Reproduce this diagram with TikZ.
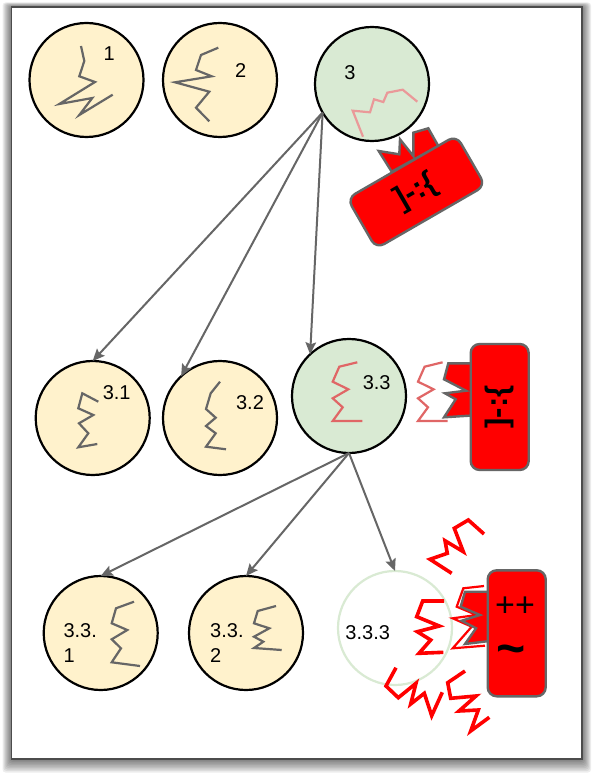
\documentclass[tikz,border=0pt]{standalone}
\usepackage{fontspec}
\setmainfont{Liberation Sans}
\usetikzlibrary{arrows.meta}
\definecolor{cream}{HTML}{FFF2CC}
\definecolor{palegreen}{HTML}{D9EAD3}
\definecolor{linegray}{HTML}{666666}
\definecolor{palepink}{HTML}{EA9999}
\definecolor{rosered}{HTML}{E06666}
\tikzset{
	>={Stealth[length=12pt,width=10.5pt,inset=2pt]},
	ball/.style={circle, draw=black, line width=2.2pt, fill=cream, minimum size=114pt, inner sep=0pt, outer sep=0pt},
	active/.style={ball, fill=palegreen},
	faded/.style={ball, fill=white, draw=palegreen},
	link/.style={->, draw=linegray, line width=2pt},
	lbl/.style={font=\fontsize{20}{24.5}\selectfont, inner sep=0pt},
	ziggray/.style={draw=linegray, line width=2.2pt},
	zigpink/.style={draw=palepink, line width=2.2pt},
	zigrose/.style={draw=rosered, line width=2.2pt},
	zigred/.style={draw=red, line width=3.6pt},
	fang/.style={fill=red, draw=linegray, line width=2.4pt},
	monster/.style={rectangle, rounded corners=9pt, fill=red, draw=linegray, line width=2.4pt, minimum width=126pt, minimum height=58pt, inner sep=0pt, font=\fontsize{31}{31}\selectfont\bfseries}
}
\begin{document}
\begin{tikzpicture}[x=1pt, y=-1pt]
	\useasboundingbox (0,0) rectangle (594,775);
	\foreach \s in {9,8,...,1} {
		\fill[black, opacity=0.07, rounded corners=3pt] (11.5-\s,7-0.5*\s) rectangle (582+\s,759+1.5*\s);
	}
	\fill[white, draw=black!70, line width=1.4pt] (11.5,7) rectangle (582,759);

	\node[ball] (c1) at (86.5,80) {};
	\node[ball] (c2) at (220,80) {};
	\node[active] (c3) at (372,84) {};
	\node[ball] (c31) at (92.7,418) {};
	\node[ball] (c32) at (220,418) {};
	\node[active] (c33) at (349,396) {};
	\node[ball] (c331) at (100.7,633) {};
	\node[ball] (c332) at (246,633) {};
	\node[faded] (c333) at (395,628) {};

	\draw[link] (c3.210) -- (c31.north);
	\draw[link] (c3.210) -- (c32.133);
	\draw[link] (c3.210) -- (c33.133);
	\draw[link] (c33.south) -- (c331.north);
	\draw[link] (c33.south) -- (c332.north);
	\draw[link] (c33.south) -- (c333.north);

	\draw[ziggray] (81,46) -- (84.3,61) -- (79.3,76.3) -- (95,82) -- (59.3,104) -- (92.3,98) -- (79.3,115) -- (112.7,94.7);
	\draw[ziggray] (218.3,47.7) -- (201,55) -- (196,70) -- (211.7,76.3) -- (175,82.3) -- (209.3,91.7) -- (196,107.7) -- (209.3,121.3);
	\draw[zigpink] (417.3,101.7) -- (402.7,89.7) -- (387.3,92.7) -- (383.3,102) -- (374,99.3) -- (370,112.3) -- (352.7,110.7) -- (363,136.7);
	\draw[ziggray] (98.3,401.7) -- (82.3,393.3) -- (78.3,408.3) -- (93.3,415) -- (79,423.3) -- (88.3,433.3) -- (78.3,447.3) -- (97.3,444);
	\draw[ziggray] (220,381.7) -- (210.7,393.3) -- (206,409) -- (215.7,417.7) -- (206,426) -- (215.7,433.3) -- (206,446.7) -- (226,449.3);
	\foreach \d in {0,85.3} {
		\draw[zigrose, xshift=\d pt] (357.3,362.3) -- (339.3,366.7) -- (332.7,381.7) -- (348.3,389.3) -- (332.7,398.3) -- (342.7,407.3) -- (332.7,421) -- (362.3,421);
	}
	\draw[ziggray] (134,601.7) -- (116,608.3) -- (111.7,623.3) -- (127.3,630) -- (111.7,639.3) -- (121,648.3) -- (111.7,662.3) -- (140,666);
	\draw[ziggray] (276,606) -- (257.7,611) -- (254,623.3) -- (269.3,628.3) -- (254,636.7) -- (263.3,641.7) -- (254,648) -- (281.7,650);

	\draw[zigred] (444,601) -- (422.7,601) -- (416.7,616.7) -- (439.3,626) -- (417.3,631.7) -- (430.7,640) -- (419,653.3) -- (443.3,652.3);
	\draw[zigred] (484,534) -- (468.3,520) -- (454.3,528.3) -- (463.3,551.7) -- (445,540.7) -- (447.3,553.3) -- (430,559.3) -- (451.7,573.3);
	\draw[zigred] (396,667.7) -- (386,686) -- (398.3,697.7) -- (416,683.3) -- (410.7,704) -- (424.3,693.3) -- (431.7,715.7) -- (442.3,692.3);
	\draw[zigred] (465,671) -- (447.7,682.7) -- (450.7,698.3) -- (476,696) -- (459,711) -- (478.3,710) -- (470.7,731) -- (489.3,717.3);
	\draw[draw=red, line width=2.2pt] (484,586) -- (463.3,588.3) -- (456.7,606.7) -- (476.7,615) -- (452.7,618.3) -- (471.7,626.7) -- (452.7,648.3) -- (485,645.7);

	\draw[fang] (378.7,151) -- (399.3,154.3) -- (400,139.3) -- (413.3,156) -- (413.3,132.7) -- (428.3,128.3) -- (438.3,146) -- (391.7,171.7) -- cycle;
	\draw[fang] (448.3,363.3) -- (480,363.3) -- (480,415) -- (444,417.3) -- (455.7,399.3) -- (445,393.3) -- (466,390.7) -- (444,379.3) -- cycle;
	\draw[fang] (492,591.7) -- (465,591.7) -- (460.7,606.7) -- (480,615) -- (461.7,620.7) -- (476,628.3) -- (465,644) -- (492,640.7) -- cycle;

	\node[monster, rotate=30] (m3) at (416.3,192) {]-:\{};
	\node[monster, rotate=90] (m33) at (499.7,407) {]-:\{};
	\node[monster, rotate=90] (m333) at (516.7,633.3) {};
	\node[font=\fontsize{34}{34}\selectfont, inner sep=0pt] (plus) at (515,606.7) {++};
	\node[font=\fontsize{50}{50}\selectfont\bfseries, inner sep=0pt] (wave) at (510.7,655) {\char`\~};

	\node[lbl] (t1) at (109.3,53.3) {1};
	\node[lbl] (t2) at (240.7,70.7) {2};
	\node[lbl] (t3) at (350,72.7) {3};
	\node[lbl] (t31) at (116.7,392.7) {3.1};
	\node[lbl] (t32) at (250,403) {3.2};
	\node[lbl] (t33) at (376.7,383) {3.3};
	\node[lbl] (t333) at (367.7,633) {3.3.3};
	\node[lbl, anchor=west, align=left] (t331) at (63.3,643) {3.3.\\1};
	\node[lbl, anchor=west, align=left] (t332) at (210,643) {3.3.\\2};
\end{tikzpicture}
\end{document}
